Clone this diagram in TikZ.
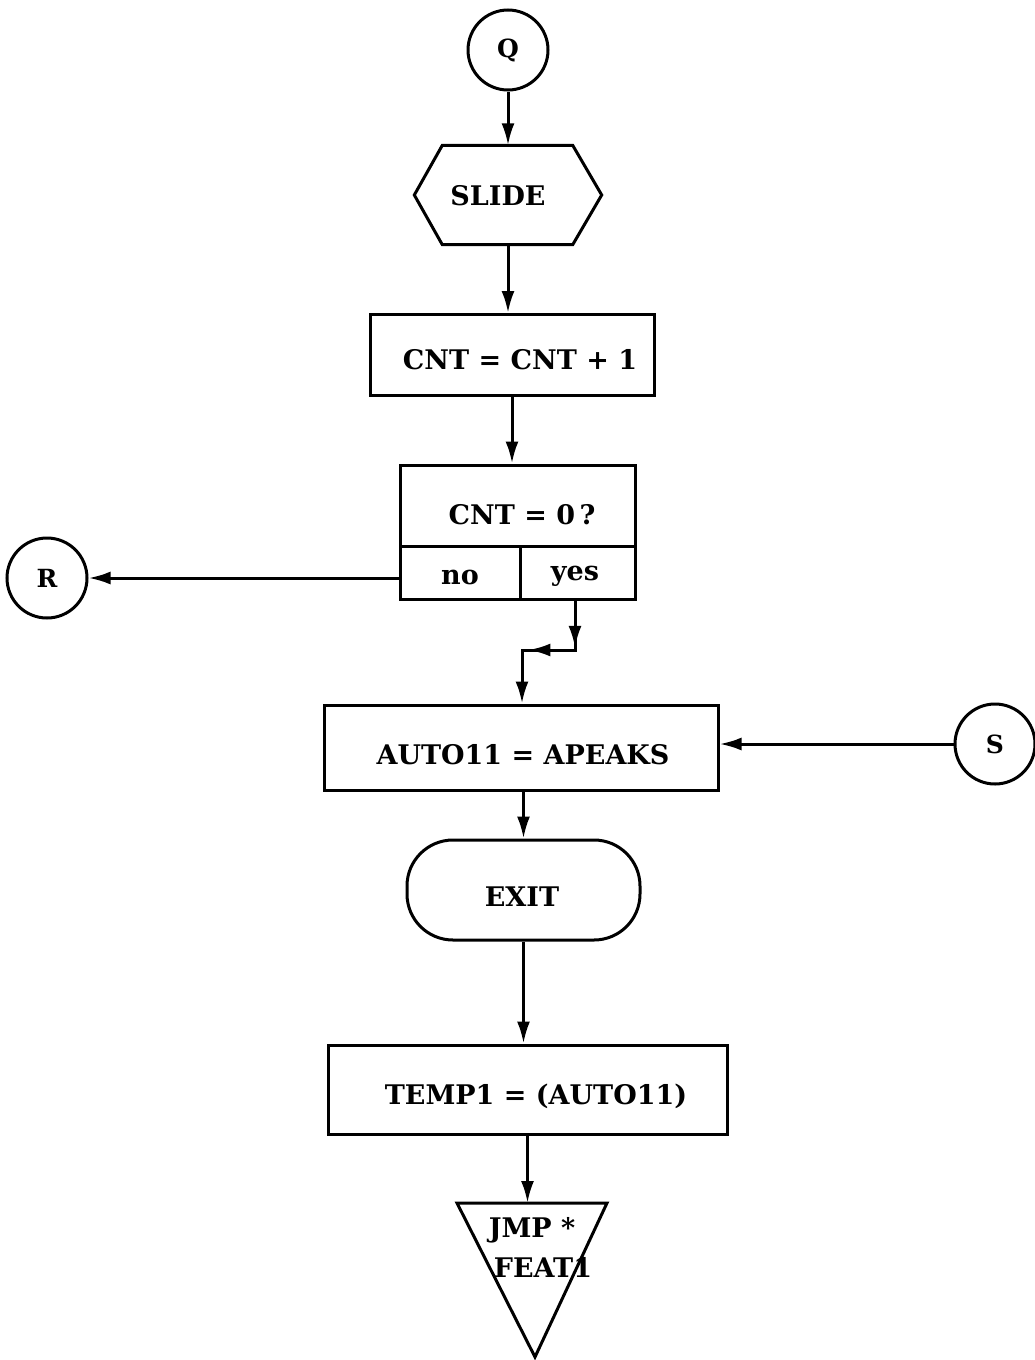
\documentclass[tikz,border=0pt]{standalone}
\usepackage{fontspec}
\setmainfont{DejaVu Serif}
\usetikzlibrary{arrows.meta,calc,decorations.markings}
\begin{document}
\begin{tikzpicture}[x=1pt,y=-1pt,
  every node/.style={font=\fontsize{27}{32}\selectfont\bfseries, inner sep=0pt},
  ln/.style={line width=3pt},
  tip/.tip={Latex[length=22pt,width=13pt]},
  arr/.style={ln,-tip},
  boxst/.style={draw,ln,rectangle},
  conn/.style={draw,ln,circle,minimum size=80pt},
  small/.style={font=\fontsize{25}{28}\selectfont\bfseries}]
\fill[white] (0,0) rectangle (1034,1360);
\useasboundingbox (0,0) rectangle (1034,1360);

% connectors (circles)
\node[conn,small] (q) at (508,50) {Q};
\node[conn,small] (r) at (47,578) {R};
\node[conn,small] (s) at (995,744) {S};

% SLIDE hexagon
\node[minimum width=187pt, minimum height=99pt] (slide) at (508,195) {};
\draw[ln] (slide.west) -- ($(slide.north west)+(28,0)$) -- ($(slide.north east)+(-29,0)$)
  -- (slide.east) -- ($(slide.south east)+(-29,0)$) -- ($(slide.south west)+(28,0)$) -- cycle;
\node (slidetxt) at (498,196) {SLIDE};

% CNT = CNT + 1
\node[boxst, minimum width=284pt, minimum height=81pt] (cnt) at (512,355) {};
\node (cnttxt) at (520,360) {CNT = CNT + 1};

% decision
\node[boxst, minimum width=235pt, minimum height=134pt] (dec) at (517.5,532) {};
\coordinate (dl) at (400,546);
\coordinate (dr) at (635,546);
\coordinate (dm) at (520,546);
\draw[ln] (dl) -- (dr);
\draw[ln] (dm) -- (dm |- dec.south);
\node (dectxt) at (522,515) {CNT = 0\,?};
\node (notxt) at (460,577) {no};
\node (yestxt) at (575,576) {yes};

% AUTO11 = APEAKS
\node[boxst, minimum width=394pt, minimum height=85pt] (auto) at (521,747.5) {};
\node (autotxt) at (523,755) {AUTO11 = APEAKS};

% EXIT
\node[draw, ln, rounded corners=46pt, minimum width=233pt, minimum height=100pt] (exit) at (523.5,890) {};
\node (exittxt) at (522,897) {EXIT};

% TEMP1 = (AUTO11)
\node[boxst, minimum width=399pt, minimum height=89pt] (temp) at (527.5,1089.5) {};
\node (temptxt) at (536,1096) {TEMP1 = (AUTO11)};

% triangle
\coordinate (tritop) at (532,1203);
\coordinate (trl) at (457,1203);
\coordinate (trr) at (607,1203);
\coordinate (trb) at (535,1357);
\draw[ln] (trl) -- (trr) -- (trb) -- cycle;
\node (jmptxt) at (532,1230) {JMP *};
\node (feattxt) at (543,1267) {FEAT1};

% arrows
\draw[arr] (q.south) -- (q.south |- slide.north);
\draw[arr] (slide.south) -- (slide.south |- cnt.north);
\draw[arr] (cnt.south) -- (cnt.south |- dec.north);
\draw[arr] (dec.west |- r) -- (r.east);
\coordinate (yb) at (575,599);
\coordinate (yc) at (575,650);
\coordinate (yd) at (522,650);
\draw[ln, decoration={markings,
    mark=at position 0.31 with {\arrow{tip}},
    mark=at position 0.62 with {\arrow{tip}}},
  postaction={decorate}, -tip]
  (yb) -- (yc) -- (yd) -- (yd |- auto.north);
\draw[arr] (s.west) -- (s.west -| auto.east);
\draw[arr] (exit.north |- auto.south) -- (exit.north);
\draw[arr] (exit.south) -- (exit.south |- temp.north);
\draw[arr] (temp.south) -- (temp.south |- tritop);
\end{tikzpicture}
\end{document}
